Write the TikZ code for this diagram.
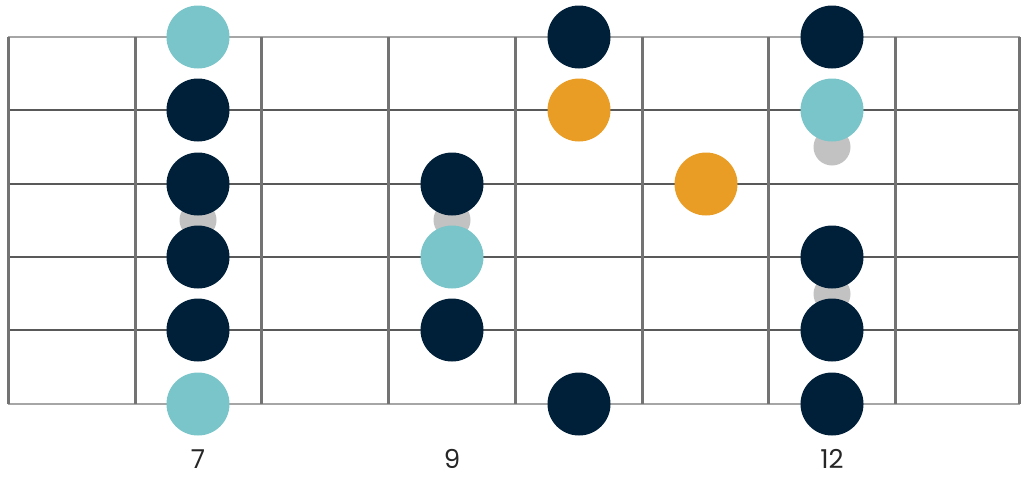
\documentclass[tikz,border=0pt]{standalone}
\usepackage{fontspec}
\setmainfont{Poppins}
\usetikzlibrary{positioning}

\definecolor{navy}{HTML}{001F38}
\definecolor{teal}{HTML}{7AC5C9}
\definecolor{amber}{HTML}{E99D25}
\definecolor{ghost}{HTML}{C2C2C2}

\begin{document}
\begin{tikzpicture}[x=1pt,y=-1pt,
  dot/.style={circle,draw=none,inner sep=0pt,minimum size=63pt},
  tone/.style={dot,fill=navy},
  root/.style={dot,fill=teal},
  blue/.style={dot,fill=amber},
  ghostdot/.style={circle,draw=none,inner sep=0pt,minimum size=37pt,fill=ghost},
  fretline/.style={draw=black!55,line width=3pt},
  stringline/.style={draw=black!65,line width=1.1pt},
  edgestring/.style={draw=black!35,line width=2.4pt},
  fretnum/.style={font=\fontsize{26}{30}\selectfont,text=black!85}]
 \useasboundingbox (0,0) rectangle (1024,483);

 % strings
 \draw[edgestring] (8,37) -- (1020,37);
 \foreach \y in {110,184,257,330}
   \draw[stringline] (8,\y) -- (1020,\y);
 \draw[edgestring] (8,404) -- (1020,404);

 % frets
 \foreach \x in {8,135,261,388,515,642,768,895,1019}
   \draw[fretline] (\x,37) -- (\x,404);

 % passing notes (under the others)
 \node[ghostdot] (g7)  at (198,220) {};
 \node[ghostdot] (g9)  at (452,220) {};
 \node[ghostdot] (g12a) at (832,147) {};
 \node[ghostdot] (g12b) at (832,294) {};

 % fret 7
 \node[root] (a1) at (198,37)  {};
 \node[tone] (a2) at (198,110) {};
 \node[tone] (a3) at (198,184) {};
 \node[tone] (a4) at (198,257) {};
 \node[tone] (a5) at (198,330) {};
 \node[root] (a6) at (198,404) {};

 % fret 9
 \node[tone] (b3) at (452,184) {};
 \node[root] (b4) at (452,257) {};
 \node[tone] (b5) at (452,330) {};

 % fret 10 and 11
 \node[tone] (c1) at (579,37)  {};
 \node[blue] (c2) at (579,110) {};
 \node[tone] (c6) at (579,404) {};
 \node[blue] (d3) at (706,184) {};

 % fret 12
 \node[tone] (e1) at (832,37)  {};
 \node[root] (e2) at (832,110) {};
 \node[tone] (e4) at (832,257) {};
 \node[tone] (e5) at (832,330) {};
 \node[tone] (e6) at (832,404) {};

 % fret numbers
 \node[fretnum] (n7)  at (198,459) {7};
 \node[fretnum] (n9)  at (452,459) {9};
 \node[fretnum] (n12) at (832,459) {12};
\end{tikzpicture}
\end{document}
